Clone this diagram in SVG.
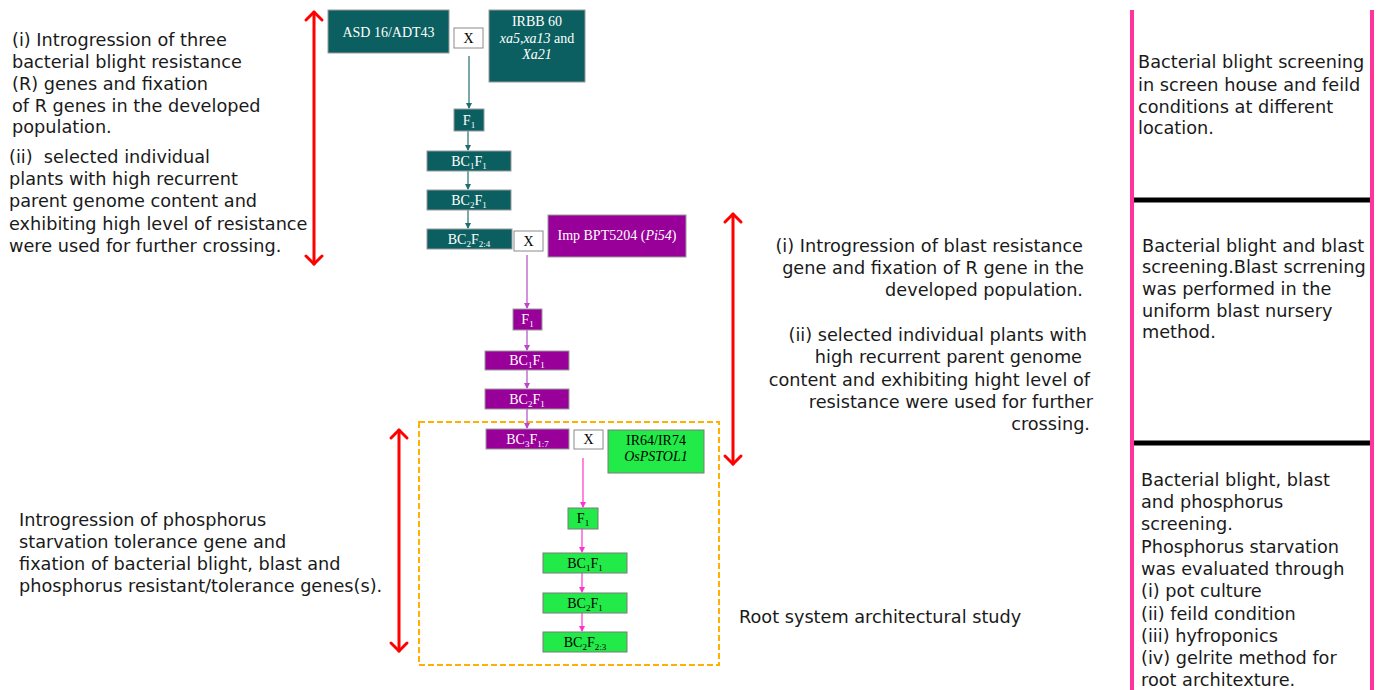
<svg xmlns="http://www.w3.org/2000/svg" width="1379" height="690" viewBox="0 0 1379 690">
<defs>
<style>
.txt{font-family:"DejaVu Sans",Verdana,sans-serif;font-size:17.7px;fill:#1a1a1a}
.bx{font-family:"Liberation Serif","Times New Roman",serif;font-size:14px;text-anchor:middle}
.w{fill:#ffffff}
.k{fill:#000000}
.s{font-size:9px}
.teal{fill:#0b5f60;stroke:#9a9a9a;stroke-width:1}
.purp{fill:#990099;stroke:#9a9a9a;stroke-width:1}
.grn{fill:#22ea48;stroke:#7a7a7a;stroke-width:1}
.xb{fill:#ffffff;stroke:#8a8a8a;stroke-width:1}
.red{stroke:#ff0000;stroke-width:3;fill:none;stroke-linecap:round;stroke-linejoin:round}
.ct{stroke:#1f6e6e;stroke-width:1.2;fill:none}
.cp{stroke:#b848c8;stroke-width:1.2;fill:none}
.cg{stroke:#ff33cc;stroke-width:1.2;fill:none}
</style>
<marker id="mt" markerWidth="6" markerHeight="6" refX="5" refY="3" orient="auto" markerUnits="userSpaceOnUse"><path d="M0,0 L6,3 L0,6 Z" fill="#1f6e6e"/></marker>
<marker id="mp" markerWidth="6" markerHeight="6" refX="5" refY="3" orient="auto" markerUnits="userSpaceOnUse"><path d="M0,0 L6,3 L0,6 Z" fill="#b848c8"/></marker>
<marker id="mg" markerWidth="6" markerHeight="6" refX="5" refY="3" orient="auto" markerUnits="userSpaceOnUse"><path d="M0,0 L6,3 L0,6 Z" fill="#ff33cc"/></marker>
</defs>
<rect width="1379" height="690" fill="#ffffff"/>

<!-- right column frame -->
<g id="frame">
<line x1="1132" y1="10" x2="1132" y2="690" stroke="#ff3399" stroke-width="4"/>
<line x1="1372" y1="10" x2="1372" y2="690" stroke="#ff3399" stroke-width="4"/>
<line x1="1134" y1="200" x2="1370" y2="200" stroke="#000" stroke-width="5"/>
<line x1="1134" y1="443" x2="1370" y2="443" stroke="#000" stroke-width="5"/>
</g>

<!-- dashed region -->
<rect id="region" x="419" y="422" width="300" height="243" fill="none" stroke="#ffb000" stroke-width="2" stroke-dasharray="6,3"/>

<!-- red double arrows -->
<g id="spans">
<line class="red" x1="314" y1="12" x2="314" y2="264"/>
<polyline class="red" points="306,20 314,12 322,20"/>
<polyline class="red" points="306,256 314,264 322,256"/>
<line class="red" x1="733" y1="214" x2="733" y2="464"/>
<polyline class="red" points="725,222 733,214 741,222"/>
<polyline class="red" points="725,456 733,464 741,456"/>
<line class="red" x1="399" y1="430" x2="399" y2="651"/>
<polyline class="red" points="391,438 399,430 407,438"/>
<polyline class="red" points="391,643 399,651 407,643"/>
</g>

<!-- connectors -->
<g id="connectors">
<line class="ct" x1="469" y1="56" x2="469" y2="108" marker-end="url(#mt)"/>
<line class="ct" x1="468" y1="131" x2="468" y2="150" marker-end="url(#mt)"/>
<line class="ct" x1="468" y1="171" x2="468" y2="189" marker-end="url(#mt)"/>
<line class="ct" x1="468" y1="210" x2="468" y2="228" marker-end="url(#mt)"/>
<line class="cp" x1="527" y1="255" x2="527" y2="308" marker-end="url(#mp)"/>
<line class="cp" x1="527" y1="330" x2="527" y2="350" marker-end="url(#mp)"/>
<line class="cp" x1="527" y1="370" x2="527" y2="388" marker-end="url(#mp)"/>
<line class="cp" x1="527" y1="409" x2="527" y2="428" marker-end="url(#mp)"/>
<line class="cg" x1="583" y1="458" x2="583" y2="507" marker-end="url(#mg)"/>
<line class="cg" x1="582" y1="529" x2="582" y2="552" marker-end="url(#mg)"/>
<line class="cg" x1="582" y1="573" x2="582" y2="592" marker-end="url(#mg)"/>
<line class="cg" x1="582" y1="613" x2="582" y2="631" marker-end="url(#mg)"/>
</g>

<!-- teal section -->
<g id="asd16">
<rect class="teal" x="328" y="10" width="121" height="43"/>
<text class="bx w" x="388.5" y="37">ASD 16/ADT43</text>
</g>
<g id="cross1">
<rect class="xb" x="454" y="28" width="29" height="20"/>
<text class="bx k" x="468.5" y="43">X</text>
</g>
<g id="irbb60">
<rect class="teal" x="489" y="10" width="96" height="72"/>
<text class="bx w" x="537" y="26">IRBB 60</text>
<text class="bx w" x="537" y="43"><tspan font-style="italic">xa5,xa13</tspan> and</text>
<text class="bx w" x="537" y="59" font-style="italic">Xa21</text>
</g>
<g id="f1a">
<rect class="teal" x="454" y="109" width="30" height="22"/>
<text class="bx w" x="469" y="125">F<tspan class="s" dy="3">1</tspan></text>
</g>
<g id="bc1f1a">
<rect class="teal" x="427" y="151" width="84" height="20"/>
<text class="bx w" x="469" y="166">BC<tspan class="s" dy="3">1</tspan><tspan dy="-3">F</tspan><tspan class="s" dy="3">1</tspan></text>
</g>
<g id="bc2f1a">
<rect class="teal" x="427" y="190" width="84" height="20"/>
<text class="bx w" x="469" y="205">BC<tspan class="s" dy="3">2</tspan><tspan dy="-3">F</tspan><tspan class="s" dy="3">1</tspan></text>
</g>
<g id="bc2f24">
<rect class="teal" x="427" y="229" width="85" height="20"/>
<text class="bx w" x="469" y="244">BC<tspan class="s" dy="3">2</tspan><tspan dy="-3">F</tspan><tspan class="s" dy="3">2:4</tspan></text>
</g>
<g id="cross2">
<rect class="xb" x="514" y="231" width="29" height="20"/>
<text class="bx k" x="528.5" y="246">X</text>
</g>

<!-- purple section -->
<g id="bpt5204">
<rect class="purp" x="548" y="215" width="138" height="42"/>
<text class="bx w" x="617" y="240">Imp BPT5204 (<tspan font-style="italic">Pi54</tspan>)</text>
</g>
<g id="f1b">
<rect class="purp" x="513" y="309" width="29" height="21"/>
<text class="bx w" x="527.5" y="324">F<tspan class="s" dy="3">1</tspan></text>
</g>
<g id="bc1f1b">
<rect class="purp" x="485" y="351" width="84" height="19"/>
<text class="bx w" x="527" y="365">BC<tspan class="s" dy="3">1</tspan><tspan dy="-3">F</tspan><tspan class="s" dy="3">1</tspan></text>
</g>
<g id="bc2f1b">
<rect class="purp" x="485" y="389" width="84" height="20"/>
<text class="bx w" x="527" y="404">BC<tspan class="s" dy="3">2</tspan><tspan dy="-3">F</tspan><tspan class="s" dy="3">1</tspan></text>
</g>
<g id="bc3f17">
<rect class="purp" x="486" y="429" width="83" height="20"/>
<text class="bx w" x="527.5" y="444">BC<tspan class="s" dy="3">3</tspan><tspan dy="-3">F</tspan><tspan class="s" dy="3">1:7</tspan></text>
</g>
<g id="cross3">
<rect class="xb" x="574" y="430" width="29" height="19"/>
<text class="bx k" x="588.5" y="444">X</text>
</g>

<!-- green section -->
<g id="ir64">
<rect class="grn" x="608" y="430" width="96" height="43"/>
<text class="bx k" x="656" y="445">IR64/IR74</text>
<text class="bx k" x="656" y="461" font-style="italic">OsPSTOL1</text>
</g>
<g id="f1c">
<rect class="grn" x="568" y="508" width="30" height="21"/>
<text class="bx k" x="583" y="523">F<tspan class="s" dy="3">1</tspan></text>
</g>
<g id="bc1f1c">
<rect class="grn" x="543" y="553" width="84" height="20"/>
<text class="bx k" x="585" y="568">BC<tspan class="s" dy="3">1</tspan><tspan dy="-3">F</tspan><tspan class="s" dy="3">1</tspan></text>
</g>
<g id="bc2f1c">
<rect class="grn" x="543" y="593" width="84" height="20"/>
<text class="bx k" x="585" y="608">BC<tspan class="s" dy="3">2</tspan><tspan dy="-3">F</tspan><tspan class="s" dy="3">1</tspan></text>
</g>
<g id="bc2f23">
<rect class="grn" x="543" y="632" width="84" height="20"/>
<text class="bx k" x="585" y="647">BC<tspan class="s" dy="3">2</tspan><tspan dy="-3">F</tspan><tspan class="s" dy="3">2:3</tspan></text>
</g>

<!-- annotations -->
<g id="note-left-top" class="txt">
<text x="12" y="46">(i) Introgression of three</text>
<text x="12" y="68">bacterial blight resistance</text>
<text x="12" y="90">(R) genes and fixation</text>
<text x="12" y="112">of R genes in the developed</text>
<text x="12" y="133">population.</text>
<text x="9" y="163">(ii)&#160; selected individual</text>
<text x="9" y="185">plants with high recurrent</text>
<text x="9" y="207">parent genome content and</text>
<text x="9" y="230">exhibiting high level of resistance</text>
<text x="9" y="252">were used for further crossing.</text>
</g>
<g id="note-mid" class="txt" text-anchor="end">
<text x="1083" y="252">(i) Introgression of blast resistance</text>
<text x="1084" y="274">gene and fixation of R gene in the</text>
<text x="1083" y="296">developed population.</text>
<text x="1087" y="341">(ii) selected individual plants with</text>
<text x="1082" y="363">high recurrent parent genome</text>
<text x="1090" y="386">content and exhibiting hight level of</text>
<text x="1093" y="408">resistance were used for further</text>
<text x="1090" y="430">crossing.</text>
</g>
<g id="note-left-bottom" class="txt">
<text x="19" y="526">Introgression of phosphorus</text>
<text x="19" y="548">starvation tolerance gene and</text>
<text x="19" y="570">fixation of bacterial blight, blast and</text>
<text x="19" y="592">phosphorus resistant/tolerance genes(s).</text>
</g>
<g id="note-root" class="txt">
<text x="739" y="623">Root system architectural study</text>
</g>
<g id="screen1" class="txt">
<text x="1138" y="68">Bacterial blight screening</text>
<text x="1138" y="91">in screen house and feild</text>
<text x="1138" y="113">conditions at different</text>
<text x="1138" y="134">location.</text>
</g>
<g id="screen2" class="txt">
<text x="1142" y="252">Bacterial blight and blast</text>
<text x="1142" y="273">screening.Blast scrrening</text>
<text x="1142" y="295">was performed in the</text>
<text x="1142" y="317">uniform blast nursery</text>
<text x="1142" y="338">method.</text>
</g>
<g id="screen3" class="txt">
<text x="1141" y="486">Bacterial blight, blast</text>
<text x="1141" y="508">and phosphorus</text>
<text x="1141" y="530">screening.</text>
<text x="1141" y="553">Phosphorus starvation</text>
<text x="1141" y="575">was evaluated through</text>
<text x="1141" y="597">(i) pot culture</text>
<text x="1141" y="620">(ii) feild condition</text>
<text x="1141" y="642">(iii) hyfroponics</text>
<text x="1141" y="664">(iv) gelrite method for</text>
<text x="1141" y="686">root architexture.</text>
</g>
</svg>
